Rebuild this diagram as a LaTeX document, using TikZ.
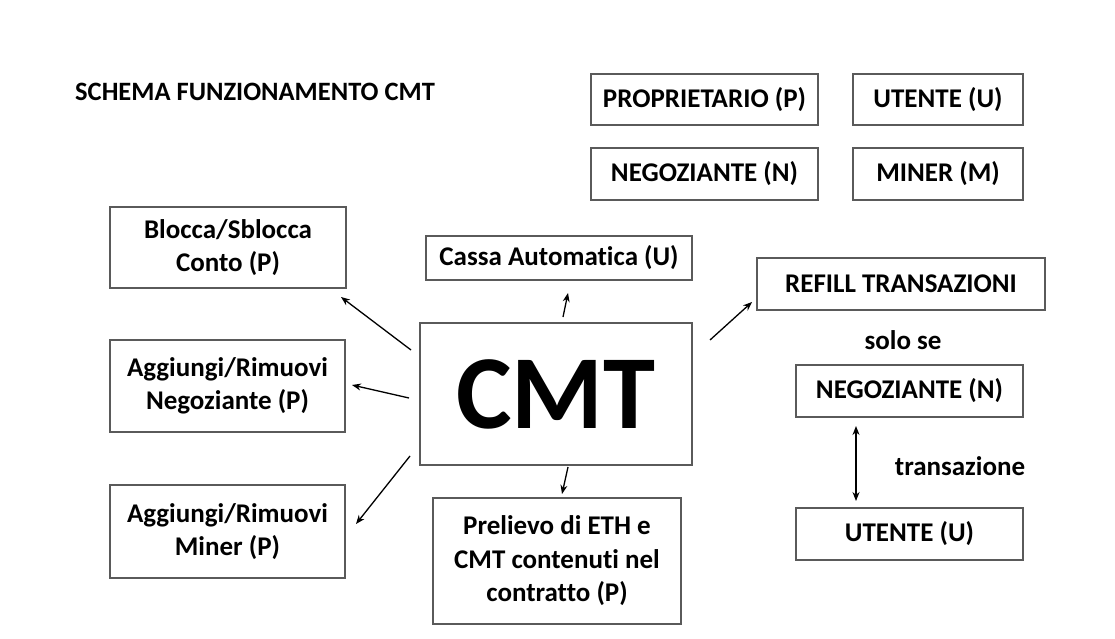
\documentclass[tikz,border=0pt]{standalone}
\usepackage{fontspec}
\setmainfont{Carlito}[Ligatures={NoCommon}]
\usetikzlibrary{arrows.meta}
\definecolor{boxgray}{RGB}{90,90,90}
\tikzset{
	box/.style 2 args={draw=boxgray,line width=1.4pt,minimum width=#1,minimum height=#2,inner sep=0pt,align=center,font=\fontsize{27}{33.5}\selectfont\bfseries},
	lbl/.style={inner sep=0pt,font=\fontsize{27}{33.5}\selectfont\bfseries},
	arr/.style={-{Stealth[length=9pt,width=7pt]},line width=1.3pt},
	darr/.style={{Stealth[length=9pt,width=7pt]}-{Stealth[length=9pt,width=7pt]},line width=1.3pt}
}

\begin{document}
\begin{tikzpicture}[x=1pt,y=-1pt]
	\useasboundingbox (0,0) rectangle (1115,639);
	\node [lbl,anchor=west,font=\fontsize{26.5}{30}\selectfont\bfseries] (title) at (75,92) {SCHEMA FUNZIONAMENTO CMT};
	
	\node [box={227pt}{51pt}] (prop) at (704.5,99.5) {PROPRIETARIO (P)};
	\node [box={170pt}{51pt}] (ute) at (938,99.5) {UTENTE (U)};
	\node [box={227pt}{52pt}] (neg) at (704.5,174) {NEGOZIANTE (N)};
	\node [box={170pt}{52pt}] (min) at (938,174) {MINER (M)};
	
	\node [box={272pt}{142pt},font=\fontsize{105}{110}\selectfont\bfseries] (cmt) at (556,394) {CMT};
	\node [box={236pt}{81pt}] (blocca) at (228,247.5) {Blocca/Sblocca\\Conto (P)};
	\node [box={235pt}{92pt}] (aggneg) at (227.5,386) {Aggiungi/Rimuovi\\Negoziante (P)};
	\node [box={235pt}{93pt}] (aggmin) at (227.5,531.5) {Aggiungi/Rimuovi\\Miner (P)};
	\node [box={266pt}{44pt}] (cassa) at (559,258) {Cassa Automatica (U)};
	\node [box={248pt}{126pt}] (prel) at (557,561) {Prelievo di ETH e\\CMT contenuti nel\\contratto (P)};
	\node [box={288pt}{52pt}] (refill) at (901,284) {REFILL TRANSAZIONI};
	\node [lbl] (solo) at (903,340) {solo se};
	\node [box={227pt}{52pt}] (neg2) at (909.5,391) {NEGOZIANTE (N)};
	\node [box={227pt}{52pt}] (ute2) at (909.5,534) {UTENTE (U)};
	\node [lbl] (trans) at (960,466) {transazione};
	
	% arrow ends
	\coordinate (b1) at (411,350); \coordinate (e1) at (341,297);
	\coordinate (b2) at (409,398); \coordinate (e2) at (352,385);
	\coordinate (b3) at (410,456); \coordinate (e3) at (356,524);
	\coordinate (b4) at (563,317); \coordinate (e4) at (568,293);
	\coordinate (b5) at (568,467); \coordinate (e5) at (562,494);
	\coordinate (b6) at (710,340); \coordinate (e6) at (752,302);
	\coordinate (b7) at (856,426); \coordinate (e7) at (856,501);
	
	\draw [arr] (b1) -- (e1);
	\draw [arr] (b2) -- (e2);
	\draw [arr] (b3) -- (e3);
	\draw [arr] (b4) -- (e4);
	\draw [arr] (b5) -- (e5);
	\draw [arr] (b6) -- (e6);
	\draw [darr] (b7) -- (e7);
\end{tikzpicture}
\end{document}
